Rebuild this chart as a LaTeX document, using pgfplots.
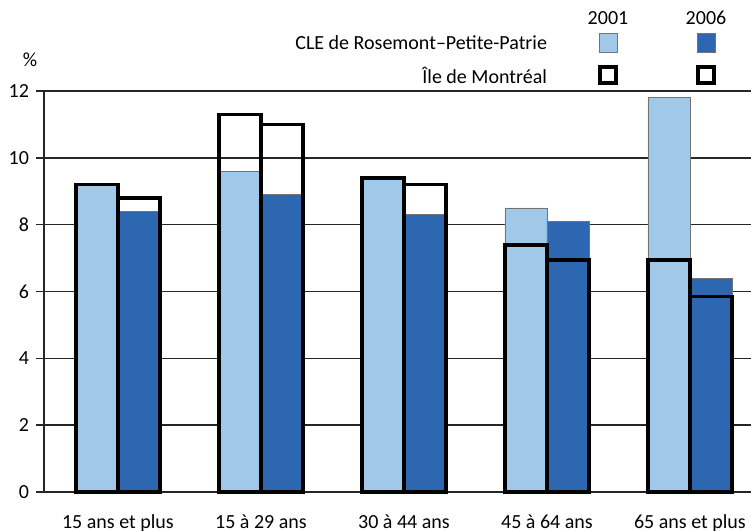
\documentclass[border=0pt]{standalone}
\usepackage{pgfplots}
\pgfplotsset{compat=1.18}
\usepackage{fontspec}
\setmainfont{Carlito}
\definecolor{lightb}{RGB}{160,200,233}
\definecolor{darkb}{RGB}{46,103,177}
\begin{document}
\begin{tikzpicture}[font=\fontsize{10bp}{12bp}\selectfont]
\useasboundingbox (-22bp,-19.5bp) rectangle (353.5bp,246bp);
\begin{axis}[
  at={(0,0)}, anchor=south west,
  scale only axis, width=353.5bp, height=200.5bp,
  xmin=-0.517, xmax=4.427, ymin=0, ymax=12,
  /pgf/number format/assume math mode=true,
  ytick={0,2,4,6,8,10,12},
  xtick={0,1,2,3,4},
  xticklabels={15 ans et plus,15 à 29 ans,30 à 44 ans,45 à 64 ans,65 ans et plus},
  axis x line*=bottom, axis y line*=left,
  axis line style={black!85, line width=0.75bp},
  ymajorgrids, grid style={black!85, line width=0.75bp},
  tick align=outside, major tick length=4bp,
  ytick style={black!85, line width=0.75bp},
  xtick style={draw=none},
  x tick label style={yshift=-4bp},
  ybar, bar width=0.294, bar shift=0pt,
  clip=false,
]
\addplot[fill=lightb, draw=black!55, line width=0.4bp] coordinates {(-0.147,9.2) (0.853,9.6) (1.853,9.4) (2.853,8.5) (3.853,11.8)};
\addplot[fill=darkb, draw=black!55, line width=0.4bp] coordinates {(0.147,8.4) (1.147,8.9) (2.147,8.3) (3.147,8.1) (4.147,6.4)};
\addplot[draw=black, fill=none, line width=1.8bp] coordinates {(-0.147,9.2) (0.853,11.3) (1.853,9.4) (2.853,7.4) (3.853,6.95)};
\addplot[draw=black, fill=none, line width=1.8bp] coordinates {(0.147,8.8) (1.147,11.0) (2.147,9.2) (3.147,6.95) (4.147,5.85)};
\end{axis}
% legend
\node at (282bp,237bp) {2001};
\node at (331bp,237bp) {2006};
\fill[lightb, draw=black!55, line width=0.4bp] (277.5bp,220bp) rectangle (286.5bp,229.5bp);
\fill[darkb, draw=black!55, line width=0.4bp] (326.5bp,220bp) rectangle (335.5bp,229.5bp);
\draw[black, line width=1.8bp] (278bp,204.5bp) rectangle (286bp,212.5bp);
\draw[black, line width=1.8bp] (327bp,204.5bp) rectangle (335bp,212.5bp);
\node[anchor=east] at (255bp,224.5bp) {CLE de Rosemont–Petite-Patrie};
\node[anchor=east] at (255bp,208.5bp) {Île de Montréal};
\node at (-7bp,216bp) {\%};
\end{tikzpicture}
\end{document}
